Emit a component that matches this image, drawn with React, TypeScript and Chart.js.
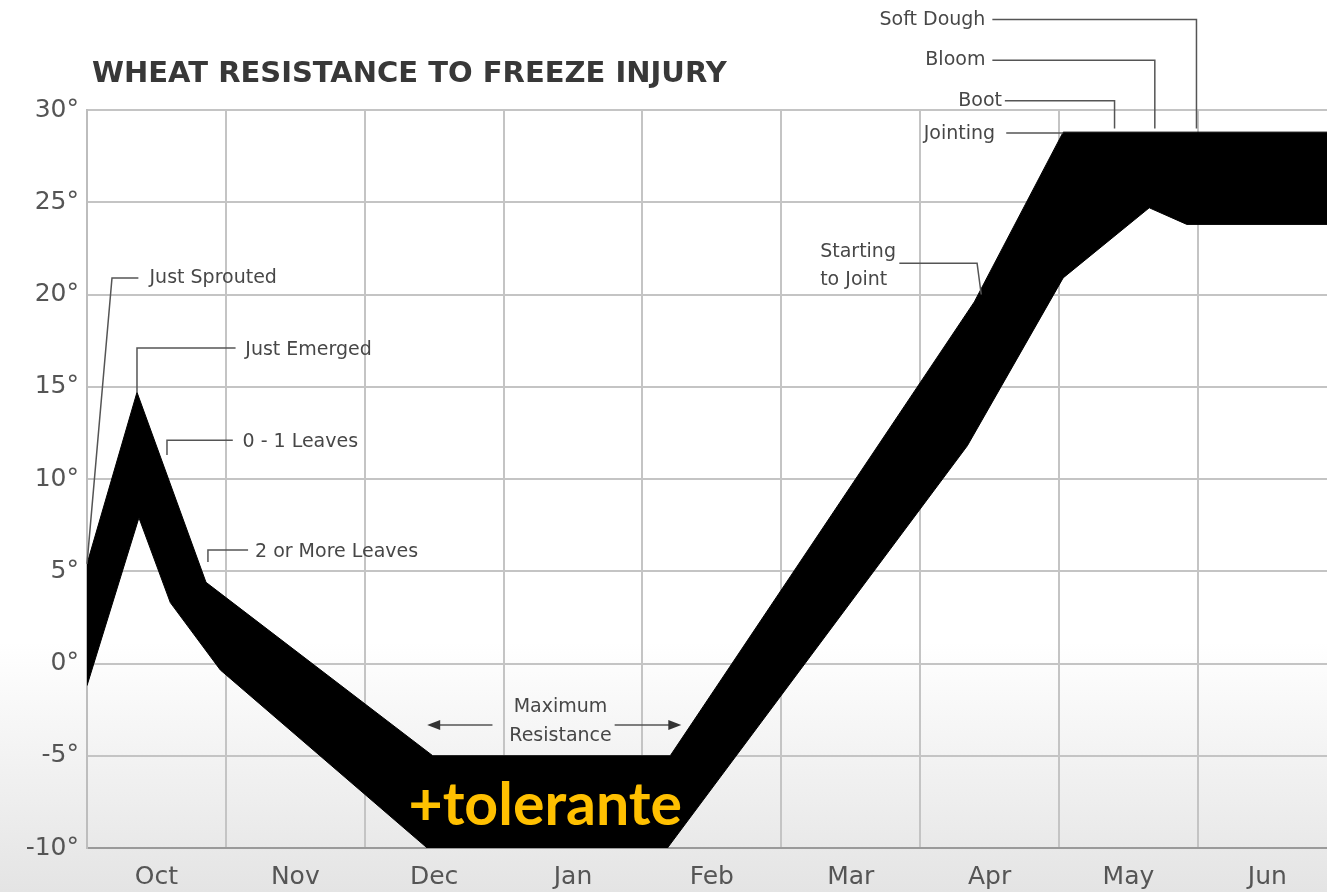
import React, { useEffect, useRef } from 'react';
import { Chart, registerables } from 'chart.js';

Chart.register(...registerables);

// ---- Data ----
const TITLE = 'WHEAT RESISTANCE TO FREEZE INJURY';
const MONTHS = ['Oct', 'Nov', 'Dec', 'Jan', 'Feb', 'Mar', 'Apr', 'May', 'Jun'];
const Y_MIN = -10;
const Y_MAX = 30;
const Y_STEP = 5;
const X_MAX = 8.93; // month columns shown (last column cut at the edge)

// upper edge of the injury band (x = months since start of Oct, y = °F)
const UPPER_X = [0, 0.36, 0.857, 2.49, 4.2, 6.39, 7.03, 8.93];
const UPPER_Y = [5.4, 14.7, 4.4, -5, -5, 19.6, 28.8, 28.8];
// lower edge of the injury band
const LOWER_X = [0, 0.374, 0.6, 0.96, 2.45, 4.18, 6.34, 7.03, 7.65, 7.92, 8.93];
const LOWER_Y = [-1.2, 7.9, 3.3, -0.35, -10, -10, 11.8, 20.9, 24.7, 23.8, 23.8];

// growth-stage call-outs (anchors in data units)
type Note = { text: string[]; at: [number, number]; align: CanvasTextAlign; path: [number, number][] };
const NOTES: Note[] = [
  { text: ['Just Sprouted'], at: [0.45, 20.9], align: 'left', path: [[0, 5.4], [0.18, 20.9], [0.37, 20.9]] },
  { text: ['Just Emerged'], at: [1.14, 17.0], align: 'left', path: [[0.36, 14.7], [0.36, 17.1], [1.07, 17.1]] },
  { text: ['0 - 1 Leaves'], at: [1.12, 12.0], align: 'left', path: [[0.576, 11.3], [0.576, 12.1], [1.05, 12.1]] },
  { text: ['2 or More Leaves'], at: [1.21, 6.05], align: 'left', path: [[0.871, 5.5], [0.871, 6.15], [1.16, 6.15]] },
  { text: ['Starting', 'to Joint'], at: [5.28, 22.3], align: 'left', path: [[5.85, 21.7], [6.41, 21.7], [6.44, 20.0]] },
  { text: ['Soft Dough'], at: [6.47, 34.9], align: 'right', path: [[6.52, 34.9], [7.99, 34.9], [7.99, 29.0]] },
  { text: ['Bloom'], at: [6.47, 32.7], align: 'right', path: [[6.52, 32.7], [7.69, 32.7], [7.69, 29.0]] },
  { text: ['Boot'], at: [6.59, 30.5], align: 'right', path: [[6.61, 30.5], [7.4, 30.5], [7.4, 29.0]] },
  { text: ['Jointing'], at: [6.54, 28.7], align: 'right', path: [[6.62, 28.75], [7.03, 28.75]] },
];
const MAX_RES_TEXT = ['Maximum', 'Resistance'];
const MAX_RES_CENTER: [number, number] = [3.41, -3.1];
const MAX_RES_ARROWS: [number, number, number][] = [
  [2.92, 2.45, -3.33],
  [3.8, 4.28, -3.33],
];
const OVERLAY_TEXT = '+tolerante';
const OVERLAY_AT: [number, number] = [3.3, -7.7];

const GRID = '#c4c4c4';
const TEXT = '#474747';
const AXIS_FONT = '"DejaVu Sans", sans-serif';

const notesPlugin = {
  id: 'notes',
  afterDatasetsDraw(chart: any) {
    const { ctx, chartArea, scales } = chart;
    const xs = scales.x;
    const ys = scales.y;
    const px = (u: number) => xs.getPixelForValue(u);
    const py = (v: number) => ys.getPixelForValue(v);
    ctx.save();

    // title
    ctx.fillStyle = '#383838';
    ctx.font = 'bold 29px "DejaVu Sans", sans-serif';
    ctx.textAlign = 'left';
    ctx.textBaseline = 'middle';
    ctx.fillText(TITLE, chartArea.left + 5, 74);

    // call-outs
    ctx.strokeStyle = '#555';
    ctx.lineWidth = 1.5;
    ctx.font = '19px "DejaVu Sans", sans-serif';
    ctx.fillStyle = TEXT;
    NOTES.forEach((n) => {
      ctx.beginPath();
      n.path.forEach(([u, v], i) => {
        if (i === 0) ctx.moveTo(px(u), py(v));
        else ctx.lineTo(px(u), py(v));
      });
      ctx.stroke();
      ctx.textAlign = n.align;
      n.text.forEach((t, i) => {
        ctx.fillText(t, px(n.at[0]), py(n.at[1]) + i * 28);
      });
    });

    // maximum resistance
    ctx.textAlign = 'center';
    ctx.font = '19px "DejaVu Sans", sans-serif';
    ctx.fillText(MAX_RES_TEXT[0], px(MAX_RES_CENTER[0]), py(MAX_RES_CENTER[1]) - 14);
    ctx.fillText(MAX_RES_TEXT[1], px(MAX_RES_CENTER[0]), py(MAX_RES_CENTER[1]) + 15);
    MAX_RES_ARROWS.forEach(([from, to, v]) => {
      const x0 = px(from), x1 = px(to), y = py(v);
      const dir = Math.sign(x1 - x0);
      ctx.beginPath();
      ctx.moveTo(x0, y);
      ctx.lineTo(x1 - dir * 10, y);
      ctx.stroke();
      ctx.beginPath();
      ctx.moveTo(x1, y);
      ctx.lineTo(x1 - dir * 13, y - 5);
      ctx.lineTo(x1 - dir * 13, y + 5);
      ctx.closePath();
      ctx.fillStyle = '#333';
      ctx.fill();
    });

    // overlay label
    ctx.fillStyle = '#FFC000';
    ctx.font = 'bold 59px Lato, "Open Sans", sans-serif';
    ctx.textAlign = 'center';
    ctx.textBaseline = 'middle';
    ctx.fillText(OVERLAY_TEXT, px(OVERLAY_AT[0]), py(OVERLAY_AT[1]));
    ctx.restore();
  },
};

export default function App() {
  const ref = useRef<HTMLCanvasElement | null>(null);
  useEffect(() => {
    if (!ref.current) return;
    const upper = UPPER_X.map((x, i) => ({ x, y: UPPER_Y[i] }));
    const lower = LOWER_X.map((x, i) => ({ x, y: LOWER_Y[i] }));
    const chart = new Chart(ref.current, {
      type: 'line',
      data: {
        datasets: [
          {
            label: 'Upper',
            data: upper,
            borderColor: '#000',
            backgroundColor: '#000',
            borderWidth: 1,
            pointRadius: 0,
            tension: 0,
            fill: '+1',
          },
          {
            label: 'Lower',
            data: lower,
            borderColor: '#000',
            backgroundColor: '#000',
            borderWidth: 1,
            pointRadius: 0,
            tension: 0,
            fill: false,
          },
        ],
      },
      options: {
        responsive: false,
        animation: false,
        layout: { padding: { top: 110, left: 0, right: 0, bottom: 0 } },
        plugins: { legend: { display: false }, tooltip: { enabled: false }, title: { display: false } },
        scales: {
          x: {
            type: 'linear',
            min: 0,
            max: X_MAX,
            afterBuildTicks: (s: any) => {
              const t: { value: number }[] = [];
              MONTHS.forEach((_, i) => {
                t.push({ value: i });
                t.push({ value: i + 0.5 });
              });
              s.ticks = t;
            },
            afterFit: (s: any) => {
              s.height = 44;
              s.paddingRight = 0;
              s.paddingLeft = 0;
            },
            ticks: {
              autoSkip: false,
              maxRotation: 0,
              padding: 14,
              color: '#555',
              font: { family: AXIS_FONT, size: 25 },
              callback: (v: any) => {
                const n = Number(v);
                return Math.abs((n % 1) - 0.5) < 1e-6 ? MONTHS[Math.floor(n)] : '';
              },
            },
            grid: {
              drawTicks: false,
              lineWidth: 2,
              color: (c: any) =>
                c.tick && Math.abs(c.tick.value - Math.round(c.tick.value)) < 1e-6 ? GRID : 'rgba(0,0,0,0)',
            },
            border: { color: '#9a9a9a', width: 2 },
          },
          y: {
            min: Y_MIN,
            max: Y_MAX,
            afterFit: (s: any) => {
              s.width = 87;
            },
            ticks: {
              stepSize: Y_STEP,
              padding: 8,
              color: '#555',
              font: { family: AXIS_FONT, size: 25 },
              callback: (v: any) => `${v}°`,
            },
            grid: { drawTicks: false, lineWidth: 2, color: GRID },
            border: { color: '#bdbdbd', width: 2 },
          },
        },
      },
      plugins: [notesPlugin],
    });
    return () => chart.destroy();
  }, []);

  return (
    <div
      style={{
        position: 'fixed',
        left: 0,
        top: 0,
        width: 1327,
        height: 892,
        background: 'linear-gradient(to bottom, #ffffff 0%, #ffffff 72%, #e4e4e4 100%)',
      }}
    >
      <canvas ref={ref} width={1327} height={892} style={{ display: 'block' }} />
    </div>
  );
}
